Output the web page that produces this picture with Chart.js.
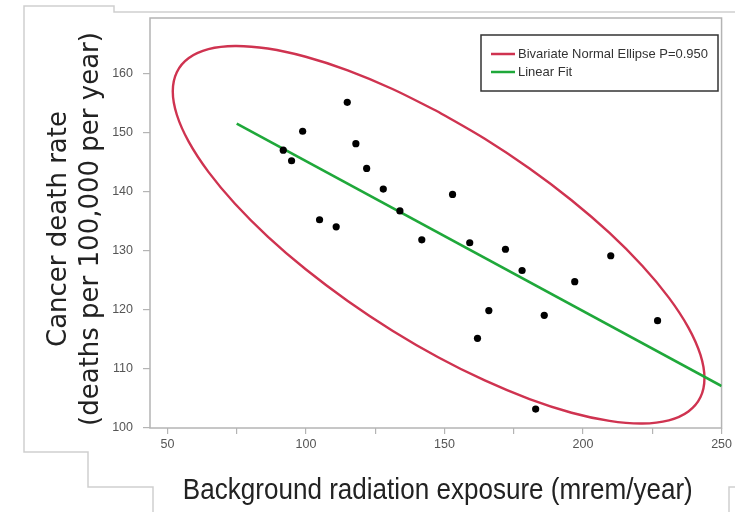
<!DOCTYPE html>
<html><head><meta charset="utf-8">
<script src="https://cdn.jsdelivr.net/npm/chart.js@4.4.1/dist/chart.umd.min.js"></script>
<style>
html,body{margin:0;padding:0;background:#fff;overflow:hidden}
#wrap{position:relative;width:735px;height:512px}
</style></head>
<body><div id="wrap"><canvas id="c" width="735" height="512"></canvas></div>
<script>
// ---- data ----
const exposure  = [91.8, 94.8, 98.8, 104.9, 110.9, 114.9, 118.0, 121.9, 127.9, 133.9, 141.8, 152.9, 159.1, 161.9, 166.0, 172.0, 178.0, 182.9, 186.0, 197.0, 210.0, 226.9];
const deathRate = [147.1, 145.3, 150.3, 135.3, 134.1, 155.2, 148.2, 144.0, 140.5, 136.8, 131.9, 139.6, 131.4, 115.2, 119.9, 130.3, 126.7, 103.2, 119.1, 124.8, 129.2, 118.2];

const fitX = [75, 250];
const fitY = [151.6, 107.1];

// outline of the 95% bivariate normal ellipse
const ellipseX = [147.87, 131.21, 115.06, 99.89, 86.19, 74.37, 64.78, 57.71, 53.38, 51.92, 53.38, 57.71, 64.78, 74.37, 86.19, 99.89, 115.06, 131.21, 147.87, 164.53, 180.68, 195.85, 209.55, 221.37, 230.96, 238.03, 242.36, 243.82, 242.36, 238.03, 230.96, 221.37, 209.55, 195.85, 180.68, 164.53, 147.87];
const ellipseY = [153.56, 157.46, 160.62, 162.93, 164.32, 164.76, 164.22, 162.72, 160.32, 157.08, 153.10, 148.50, 143.42, 138.02, 132.46, 126.91, 121.54, 116.50, 111.96, 108.06, 104.90, 102.59, 101.20, 100.76, 101.30, 102.80, 105.20, 108.44, 112.42, 117.02, 122.10, 127.50, 133.06, 138.61, 143.98, 149.02, 153.56];

const xTickValues = [50, 75, 100, 125, 150, 175, 200, 225, 250];
const xLabelValues = [50, 100, 150, 200, 250];
const yTickValues = [100, 110, 120, 130, 140, 150, 160];

const legendLabels = ['Bivariate Normal Ellipse P=0.950', 'Linear Fit'];
const xTitle = 'Background radiation exposure (mrem/year)';
const yTitle = ['Cancer death rate', '(deaths per 100,000 per year)'];

// ---- styles ----
const RED = '#cf3350';
const GREEN = '#1fa83a';
const SANS = "'Liberation Sans', Arial, sans-serif";

const points = exposure.map((x, i) => ({x: x, y: deathRate[i]}));
const fit = fitX.map((x, i) => ({x: x, y: fitY[i]}));
const ellipse = ellipseX.map((x, i) => ({x: x, y: ellipseY[i]}));

const decoPlugin = {
  id: 'deco',
  beforeDraw(chart) {
    const c = chart.ctx;
    c.save();
    c.fillStyle = '#fff';
    c.fillRect(0, 0, chart.width, chart.height);
    // faint outline lines of the surrounding screenshot
    c.strokeStyle = '#cfcfcf';
    c.lineWidth = 1.5;
    c.beginPath();
    c.moveTo(735, 12); c.lineTo(114, 12); c.lineTo(114, 6); c.lineTo(24, 6);
    c.lineTo(24, 452); c.lineTo(88, 452); c.lineTo(88, 487); c.lineTo(153, 487); c.lineTo(153, 512);
    c.moveTo(735, 487); c.lineTo(729, 487); c.lineTo(729, 512);
    c.stroke();
    c.restore();
  },
  beforeDatasetsDraw(chart) {
    const a = chart.chartArea, c = chart.ctx;
    c.save();
    c.strokeStyle = '#b4b4b4';
    c.lineWidth = 1.5;
    c.strokeRect(a.left, a.top, a.right - a.left, a.bottom - a.top);
    c.restore();
  },
  afterDraw(chart) {
    const c = chart.ctx;
    const a = chart.chartArea;
    c.save();
    // x axis title (condensed like the reference)
    c.font = '29px ' + SANS;
    c.fillStyle = '#222';
    c.textAlign = 'center';
    c.textBaseline = 'alphabetic';
    c.fillText(xTitle, (a.left + a.right) / 2 + 2, 499, 510);
    // y axis title, two rotated lines
    c.save();
    c.font = "26px 'DejaVu Sans', sans-serif";
    c.textBaseline = 'middle';
    c.translate(0, 229);
    c.rotate(-Math.PI / 2);
    c.fillText(yTitle[0], 0, 59);
    c.fillText(yTitle[1], 0, 91);
    c.restore();
    // legend
    const bx = 481, by = 35, bw = 237, bh = 56;
    c.fillStyle = '#fff';
    c.fillRect(bx, by, bw, bh);
    c.strokeStyle = '#333';
    c.lineWidth = 1.5;
    c.strokeRect(bx, by, bw, bh);
    const cols = [RED, GREEN];
    const ys = [54, 72];
    c.font = '13px ' + SANS;
    c.textBaseline = 'middle';
    c.textAlign = 'left';
    for (let i = 0; i < legendLabels.length; i++) {
      c.strokeStyle = cols[i];
      c.lineWidth = 2.5;
      c.beginPath(); c.moveTo(491, ys[i]); c.lineTo(515, ys[i]); c.stroke();
      c.fillStyle = '#333';
      c.fillText(legendLabels[i], 518, ys[i], 190);
    }
    c.restore();
  }
};

new Chart(document.getElementById('c'), {
  type: 'scatter',
  data: {
    datasets: [
      {label: 'Data', data: points, pointRadius: 3.6, pointBackgroundColor: '#000', pointBorderWidth: 0, showLine: false},
      {label: legendLabels[1], data: fit, showLine: true, borderColor: GREEN, borderWidth: 2.6, pointRadius: 0},
      {label: legendLabels[0], data: ellipse, showLine: true, borderColor: RED, borderWidth: 2.4, pointRadius: 0, tension: 0.33}
    ]
  },
  options: {
    responsive: false,
    animation: false,
    devicePixelRatio: 1,
    layout: {padding: {left: 0, right: 7, top: 18, bottom: 0}},
    plugins: {legend: {display: false}, tooltip: {enabled: false}},
    scales: {
      x: {
        type: 'linear', min: 43.7, max: 250,
        afterBuildTicks: a => { a.ticks = xTickValues.map(v => ({value: v})); },
        afterFit: s => { s.height = 84; },
        border: {display: false},
        grid: {drawOnChartArea: false, drawTicks: true, tickLength: 6, color: '#b4b4b4', lineWidth: 1.2},
        ticks: {
          autoSkip: false, maxRotation: 0, padding: 3, color: '#555',
          font: {family: SANS, size: 12.5},
          callback: v => xLabelValues.includes(v) ? String(v) : ''
        },
        title: {display: false, text: xTitle}
      },
      y: {
        type: 'linear', min: 100, max: 169.5,
        afterBuildTicks: a => { a.ticks = yTickValues.map(v => ({value: v})); },
        afterFit: s => { s.width = 150; },
        border: {display: false},
        grid: {drawOnChartArea: false, drawTicks: true, tickLength: 7, color: '#b4b4b4', lineWidth: 1.2},
        ticks: {padding: 10, color: '#555', font: {family: SANS, size: 12.5}},
        title: {display: false, text: yTitle}
      }
    }
  },
  plugins: [decoPlugin]
});
</script>
</body></html>
